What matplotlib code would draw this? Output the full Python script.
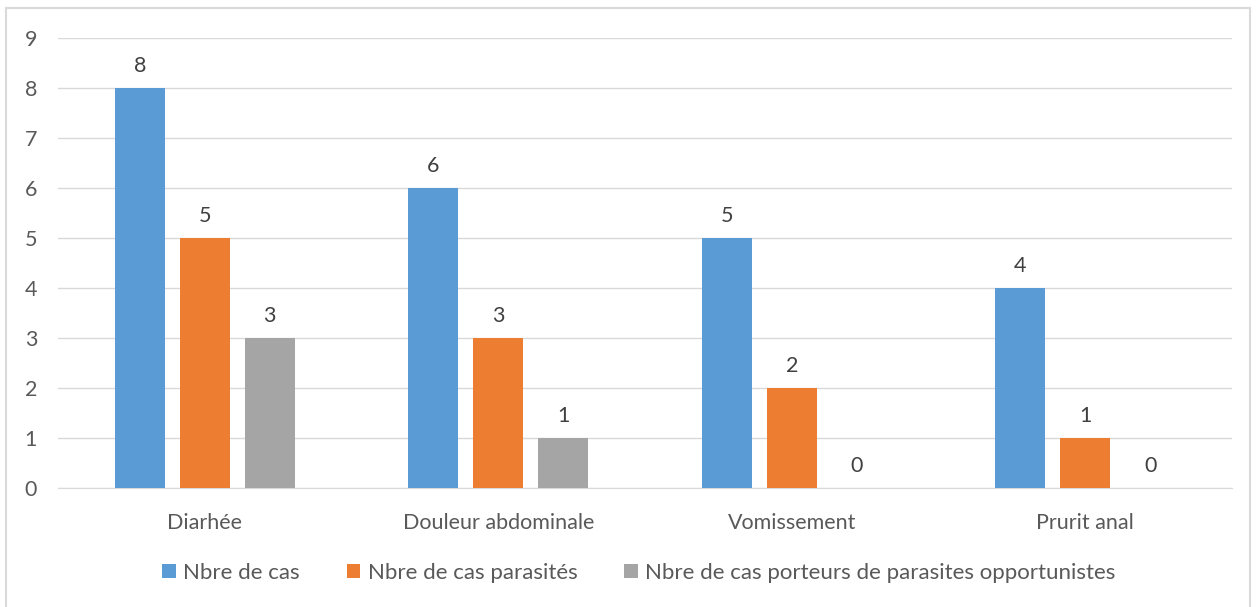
import matplotlib.pyplot as plt
from matplotlib.patches import Rectangle
import numpy as np

plt.rcParams['font.family'] = ['Lato', 'DejaVu Sans']

categories = ["Diarhée", "Douleur abdominale", "Vomissement", "Prurit anal"]
series_names = ["Nbre de cas", "Nbre de cas parasités",
                "Nbre de cas porteurs de parasites opportunistes"]
nbre_cas = [8, 6, 5, 4]
nbre_parasites = [5, 3, 2, 1]
nbre_opportunistes = [3, 1, 0, 0]
colors = ["#5B9BD5", "#ED7D31", "#A5A5A5"]
text_col = "#595959"
fs = 15.5

fig = plt.figure(figsize=(12.58, 6.07), dpi=100)
ax = fig.add_axes([0.0461, 0.196, 0.9333, 0.7414])

x = np.arange(len(categories))
width = 0.17
step = 0.2215
for i, (vals, name) in enumerate(zip([nbre_cas, nbre_parasites, nbre_opportunistes], series_names)):
    bars = ax.bar(x + (i - 1) * step, vals, width, color=colors[i], label=name, zorder=3)
    for b, v in zip(bars, vals):
        ax.annotate(str(v), (b.get_x() + b.get_width() / 2, v), xytext=(0, 9),
                    textcoords="offset points", ha="center", va="bottom",
                    fontsize=fs, color="#404040")

ax.set_xlim(-0.5, 3.5)
ax.set_ylim(0, 9)
ax.set_yticks(range(10))
ax.set_xticks(x)
ax.set_xticklabels(categories)
ax.grid(axis="y", color="#D9D9D9", linewidth=1, zorder=0)
for s in ["top", "right", "left"]:
    ax.spines[s].set_visible(False)
ax.spines["bottom"].set_color("#D9D9D9")
ax.tick_params(axis="both", length=0, labelsize=fs, labelcolor=text_col)
ax.tick_params(axis="x", pad=18)
ax.tick_params(axis="y", pad=15)

leg = fig.legend(loc="center", bbox_to_anchor=(0.508, 0.056), ncol=3, frameon=False,
                 fontsize=16, handlelength=0.6, handleheight=0.6, handletextpad=0.35,
                 columnspacing=2.1)
for t in leg.get_texts():
    t.set_color(text_col)

fig.patches.append(Rectangle((6 / 1258, -0.01), 1244 / 1258, 1 - 8 / 607 + 0.01,
                             transform=fig.transFigure, fill=False,
                             edgecolor="#D9D9D9", linewidth=1.5))

fig.savefig("out.png", dpi=100)
